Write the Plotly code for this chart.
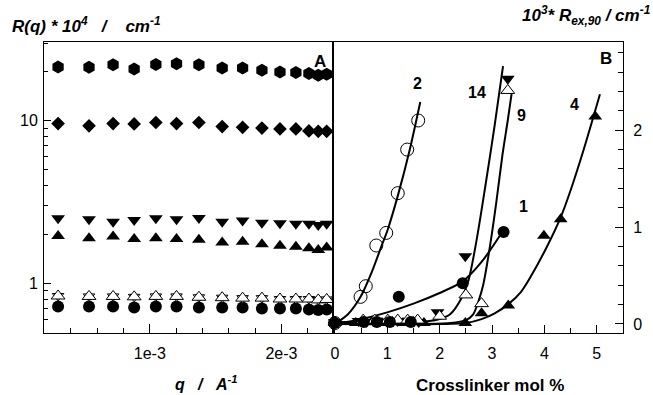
import plotly.graph_objects as go

# ---------------- Panel A data (q in 1/A, R(q)*1e4) ----------------
q = [0.303e-3, 0.538e-3, 0.721e-3, 0.881e-3, 1.046e-3, 1.203e-3, 1.373e-3, 1.550e-3,
     1.705e-3, 1.852e-3, 1.989e-3, 2.110e-3, 2.209e-3, 2.280e-3, 2.344e-3]
R_hex = [21.4, 21.3, 22.1, 20.8, 22.2, 22.4, 22.1, 21.1, 21.1, 20.4, 19.9, 19.8, 19.5, 19.0, 19.3]
R_diamond = [9.6, 9.3, 9.6, 9.55, 9.75, 9.6, 9.75, 9.2, 9.1, 9.0, 8.9, 8.9, 8.65, 8.6, 8.6]
R_down = [2.51, 2.48, 2.39, 2.45, 2.51, 2.48, 2.52, 2.39, 2.43, 2.36, 2.34, 2.32, 2.32, 2.28, 2.32]
R_up = [1.95, 1.89, 1.94, 1.87, 1.89, 1.87, 1.85, 1.78, 1.80, 1.74, 1.70, 1.68, 1.64, 1.60, 1.66]
R_open_tri = [0.835, 0.83, 0.83, 0.825, 0.83, 0.83, 0.82, 0.815, 0.81, 0.81, 0.80, 0.80, 0.80, 0.79, 0.795]
R_circle = [0.72, 0.72, 0.72, 0.71, 0.72, 0.72, 0.71, 0.71, 0.71, 0.70, 0.70, 0.70, 0.69, 0.685, 0.69]

# ---------------- Panel B data (crosslinker mol %, 1e3*Rex,90) ----------------
x2_pts = [0.0, 0.49, 0.59, 0.79, 0.98, 1.20, 1.38, 1.59]
y2_pts = [0.01, 0.28, 0.39, 0.81, 0.94, 1.35, 1.80, 2.10]
x1_pts = [0.0, 0.55, 0.8, 1.05, 1.22, 1.45, 2.44, 3.22]
y1_pts = [0.01, 0.02, 0.02, 0.02, 0.28, 0.02, 0.42, 0.95]
x14_pts = [0.0, 0.45, 0.6, 0.8, 1.0, 1.2, 1.4, 1.6, 1.96, 2.49, 3.30]
y14_pts = [0.02, 0.03, 0.02, 0.03, 0.02, 0.03, 0.03, 0.02, 0.12, 0.70, 2.53]
x9_pts = [0.0, 0.54, 0.76, 1.01, 1.2, 1.39, 1.58, 2.0, 2.50, 2.80, 3.30]
y9_pts = [0.02, 0.04, 0.04, 0.04, 0.04, 0.04, 0.04, 0.08, 0.30, 0.21, 2.41]
x4_pts = [0.0, 0.4, 0.5, 0.7, 0.9, 1.1, 1.3, 1.5, 1.7, 2.49, 2.80, 3.31, 3.99, 4.31, 4.97]
y4_pts = [0.01, 0.01, 0.01, 0.02, 0.01, 0.02, 0.01, 0.02, 0.01, 0.01, 0.11, 0.19, 0.91, 1.08, 2.14]

# fitted curves
c2_x = [0.0, 0.25, 0.49, 0.7, 0.9, 1.0, 1.21, 1.43, 1.63]
c2_y = [0.0, 0.10, 0.28, 0.53, 0.82, 0.96, 1.34, 1.80, 2.29]
c1_x = [0.0, 0.5, 1.0, 1.5, 2.0, 2.44, 2.8, 3.22]
c1_y = [0.0, 0.05, 0.12, 0.21, 0.32, 0.44, 0.64, 0.97]
c14_x = [0.0, 1.0, 1.8, 2.0, 2.2, 2.4, 2.55, 2.7, 2.88, 3.05, 3.21]
c14_y = [0.02, 0.02, 0.03, 0.05, 0.10, 0.25, 0.45, 0.85, 1.45, 2.05, 2.66]
c9_x = [0.0, 1.5, 2.2, 2.5, 2.64, 2.75, 2.83, 2.96, 3.08, 3.2, 3.3, 3.38]
c9_y = [0.0, 0.0, 0.01, 0.04, 0.10, 0.25, 0.40, 0.80, 1.25, 1.75, 2.10, 2.40]
c4_x = [0.0, 2.0, 2.5, 2.8, 3.05, 3.3, 3.55, 3.75, 4.05, 4.31, 4.5, 4.75, 5.06]
c4_y = [0.0, 0.0, 0.01, 0.05, 0.11, 0.20, 0.33, 0.50, 0.80, 1.10, 1.38, 1.80, 2.37]

curve_labels = ["2", "14", "9", "4", "1"]
label_x = [1.57, 2.71, 3.56, 4.58, 3.60]
label_y = [2.48, 2.39, 2.15, 2.26, 1.21]

FONT = "Liberation Sans, Arial, sans-serif"
BLK = "black"

fig = go.Figure()

def mk(symbol, size, fill=BLK, lw=0.0):
    return dict(symbol=symbol, size=size, color=fill, line=dict(color=BLK, width=lw))

# Panel A
fig.add_trace(go.Scatter(x=q, y=R_hex, mode="markers", marker=mk("hexagon", 13), xaxis="x", yaxis="y", cliponaxis=False))
fig.add_trace(go.Scatter(x=q, y=R_diamond, mode="markers", marker=mk("diamond", 10.5), xaxis="x", yaxis="y", cliponaxis=False))
fig.add_trace(go.Scatter(x=q, y=R_down, mode="markers", marker=mk("triangle-down", 12), xaxis="x", yaxis="y", cliponaxis=False))
fig.add_trace(go.Scatter(x=q, y=R_up, mode="markers", marker=mk("triangle-up", 12), xaxis="x", yaxis="y", cliponaxis=False))
fig.add_trace(go.Scatter(x=q, y=R_circle, mode="markers", marker=mk("circle", 12), xaxis="x", yaxis="y", cliponaxis=False))
fig.add_trace(go.Scatter(x=q, y=R_open_tri, mode="markers", marker=mk("triangle-down", 10, "white", 1), xaxis="x", yaxis="y", cliponaxis=False))
fig.add_trace(go.Scatter(x=q, y=R_open_tri, mode="markers", marker=mk("triangle-up", 12, "white", 1), xaxis="x", yaxis="y", cliponaxis=False))

# Panel B curves
for cx, cy in [(c2_x, c2_y), (c1_x, c1_y), (c14_x, c14_y), (c9_x, c9_y), (c4_x, c4_y)]:
    fig.add_trace(go.Scatter(x=cx, y=cy, mode="lines", line=dict(color=BLK, width=2, shape="spline", smoothing=0.8),
                             xaxis="x2", yaxis="y2"))

# Panel B markers
fig.add_trace(go.Scatter(x=x4_pts, y=y4_pts, mode="markers", marker=mk("triangle-up", 12), xaxis="x2", yaxis="y2", cliponaxis=False))
fig.add_trace(go.Scatter(x=x14_pts, y=y14_pts, mode="markers", marker=mk("triangle-down", 12), xaxis="x2", yaxis="y2", cliponaxis=False))
fig.add_trace(go.Scatter(x=x9_pts, y=y9_pts, mode="markers", marker=mk("triangle-up", 12, "white", 1), xaxis="x2", yaxis="y2", cliponaxis=False))
fig.add_trace(go.Scatter(x=x1_pts, y=y1_pts, mode="markers", marker=mk("circle", 12), xaxis="x2", yaxis="y2", cliponaxis=False))
fig.add_trace(go.Scatter(x=x2_pts, y=y2_pts, mode="markers", marker=mk("circle-open", 13, BLK, 1), xaxis="x2", yaxis="y2", cliponaxis=False))

W, H = 653, 395
ML, MR, MT, MB = 44, 30, 42, 62
PW, PH = W - ML - MR, H - MT - MB
split = (333 - ML) / PW

def px(xp):
    return (xp - ML) / PW

def py(yp):
    return (H - MB - yp) / PH

tickfont = dict(family=FONT, size=16, color=BLK)
axis_common = dict(showline=True, linecolor=BLK, linewidth=1, mirror=True, ticks="inside",
                   tickcolor=BLK, showgrid=False, zeroline=False, tickfont=tickfont)

fig.update_layout(
    width=W, height=H, autosize=False, showlegend=False,
    margin=dict(l=ML, r=MR, t=MT, b=MB),
    paper_bgcolor="white", plot_bgcolor="white",
    xaxis=dict(domain=[0, split], range=[0.196e-3, 2.392e-3], anchor="y",
               tickmode="array", tickvals=[1e-3, 2e-3], ticktext=["1e-3", "2e-3"], ticklen=9,
               ticklabelstandoff=6,
               minor=dict(tickmode="array", tickvals=[0.4e-3, 0.6e-3, 0.8e-3, 1.2e-3, 1.4e-3, 1.6e-3, 1.8e-3, 2.2e-3],
                          ticks="inside", ticklen=5, tickcolor=BLK),
               **axis_common),
    yaxis=dict(type="log", range=[-0.306, 1.484], anchor="x", domain=[0, 1],
               tickmode="array", tickvals=[1, 10], ticktext=["1", "10"], ticklen=7,
               ticklabelstandoff=2,
               minor=dict(tickmode="array", tickvals=[0.5, 0.6, 0.7, 0.8, 0.9, 2, 3, 4, 5, 6, 7, 8, 9, 20, 30],
                          ticks="inside", ticklen=4, tickcolor=BLK),
               **axis_common),
    xaxis2=dict(domain=[split, 1], range=[-0.036, 5.5], anchor="y2",
                tickmode="array", tickvals=[0, 1, 2, 3, 4, 5], ticklen=8,
                ticklabelstandoff=6,
                minor=dict(tickmode="array", tickvals=[0.5, 1.5, 2.5, 3.5, 4.5], ticks="inside", ticklen=5, tickcolor=BLK),
                **axis_common),
    yaxis2=dict(range=[-0.093, 2.91], anchor="x2", side="right", domain=[0, 1],
                tickmode="array", tickvals=[0, 1, 2], ticklen=8,
                ticklabelstandoff=6,
                minor=dict(tickmode="array", tickvals=[0.2, 0.4, 0.6, 0.8, 1.2, 1.4, 1.6, 1.8, 2.2, 2.4, 2.6, 2.8],
                           ticks="inside", ticklen=5, tickcolor=BLK),
                **axis_common),
)

ann = []
for t, lx, ly in zip(curve_labels, label_x, label_y):
    ann.append(dict(x=lx, y=ly, xref="x2", yref="y2", text="<b>%s</b>" % t, showarrow=False,
                    font=dict(family=FONT, size=16, color=BLK)))
ann.append(dict(x=5.17, y=2.74, xref="x2", yref="y2", text="<b>B</b>", showarrow=False,
                font=dict(family=FONT, size=17, color=BLK)))
ann.append(dict(x=px(320), y=py(50), xref="paper", yref="paper", text="<b>A</b>", showarrow=False,
                font=dict(family=FONT, size=17, color=BLK)))
nb = "\u00a0"
ann.append(dict(x=px(10), y=py(25), xref="paper", yref="paper", xanchor="left", yanchor="middle",
                text="<b><i>R(q) * 10<sup>4</sup>" + nb * 3 + "/" + nb * 3 + " cm<sup>-1</sup></i></b>",
                showarrow=False, font=dict(family=FONT, size=17, color=BLK)))
ann.append(dict(x=px(652), y=py(15), xref="paper", yref="paper", xanchor="right", yanchor="middle",
                text="<b><i>10<sup>3</sup>* R<sub>ex,90</sub> / cm<sup>-1</sup></i></b>",
                showarrow=False, font=dict(family=FONT, size=17, color=BLK)))
ann.append(dict(x=px(206), y=py(383), xref="paper", yref="paper", xanchor="center", yanchor="middle",
                text="<b><i>q" + nb * 3 + "/" + nb * 3 + "A<sup>-1</sup></i></b>",
                showarrow=False, font=dict(family=FONT, size=16, color=BLK)))
ann.append(dict(x=px(490), y=py(385), xref="paper", yref="paper", xanchor="center", yanchor="middle",
                text="<b>Crosslinker mol %</b>",
                showarrow=False, font=dict(family=FONT, size=17, color=BLK)))
fig.update_layout(annotations=ann)

fig.write_html("out.html", config={"displayModeBar": False},
               post_script="document.body.style.margin='0px';")
